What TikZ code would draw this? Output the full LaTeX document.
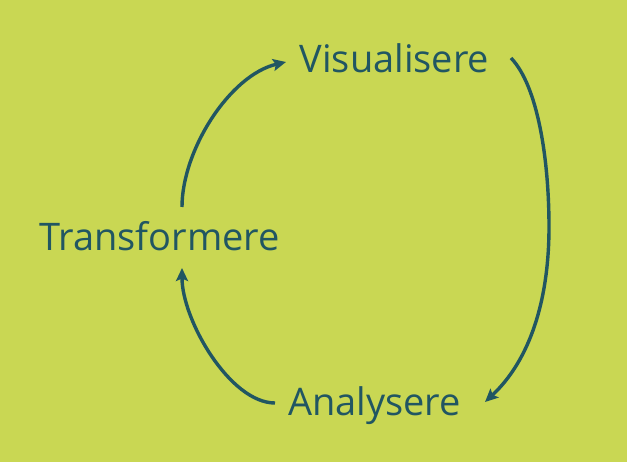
\documentclass[tikz,border=0pt]{standalone}
\usepackage{fontspec}
\setmainfont{Open Sans}
\usetikzlibrary{arrows.meta}
\definecolor{bg}{RGB}{201,215,83}
\definecolor{fg}{RGB}{33,86,98}
\begin{document}
\begin{tikzpicture}[x=1pt,y=-1pt,
  lbl/.style={text=fg,font=\fontsize{38}{40}\selectfont,inner sep=0pt,anchor=base},
  flow/.style={draw=fg,line width=3.4pt,-{Stealth[length=13pt,width=12pt,inset=2.5pt]}}]
\fill[bg] (0,0) rectangle (627,462);
\useasboundingbox (0,0) rectangle (627,462);
\node[lbl] (V) at (394.5,73) {Visualisere};
\node[lbl] (T) at (159.5,251) {Transformere};
\node[lbl] (A) at (374.5,416) {Analysere};
\coordinate (t1) at (182,207);
\coordinate (v1) at (286,62);
\coordinate (v2) at (511,58);
\coordinate (vm) at (549,227);
\coordinate (a1) at (485,402);
\coordinate (a2) at (275,403);
\coordinate (t2) at (182,268);
\draw[flow] (t1) .. controls (182,150) and (230,75) .. (v1);
\draw[flow] (v2) .. controls (538,86) and (549,160) .. (vm) .. controls (549,300) and (530,360) .. (a1);
\draw[flow] (a2) .. controls (230,403) and (182,320) .. (t2);
\end{tikzpicture}
\end{document}
